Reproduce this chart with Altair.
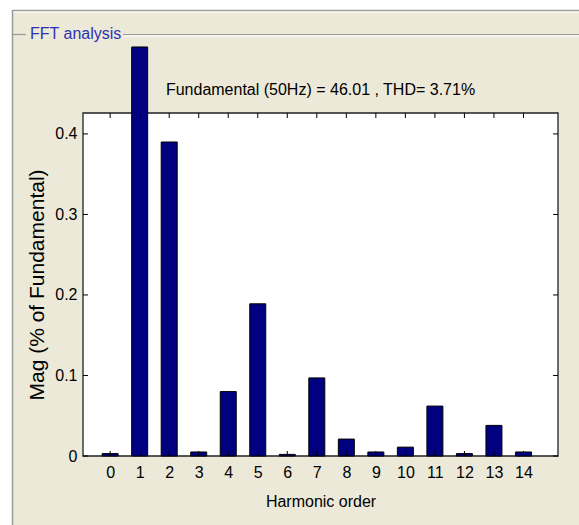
import altair as alt
import pandas as pd

# Harmonic spectrum (magnitude as % of fundamental, as displayed)
orders = list(range(15))
mags = [0.003, 0.508, 0.390, 0.005, 0.080, 0.189, 0.002, 0.097,
        0.021, 0.005, 0.011, 0.062, 0.003, 0.038, 0.005]
y_ticks = [0, 0.1, 0.2, 0.3, 0.4]

title_text = "Fundamental (50Hz) = 46.01 , THD= 3.71%"
panel_text = "FFT analysis"
x_title = "Harmonic order"
y_title = "Mag (% of Fundamental)"

FONT = "Liberation Sans"
FS = 16
W, H = 475, 343
BG = "#ECE9D8"
EDGE = "#9A9A9A"

bars_df = pd.DataFrame({"order": orders, "mag": mags})
ticks_df = pd.DataFrame({"mag": y_ticks})
one = pd.DataFrame({"a": [0]})

xs = alt.Scale(domain=[-0.75, 15], nice=False, zero=False)
ys = alt.Scale(domain=[0, 0.426], nice=False, zero=False)

label_expr = "datum.value == 0 ? '0' : format(datum.value, '.1f')"

x_axis = alt.Axis(
    values=orders, title=x_title, tickSize=0, domain=False, grid=False, zindex=1,
    labelOverlap=False, labelFlush=False,
    labelFont=FONT, labelFontSize=FS, labelColor="black", labelPadding=8,
    titleFont=FONT, titleFontSize=FS, titleFontWeight="normal", titleColor="black",
    titlePadding=13)
y_axis = alt.Axis(
    values=y_ticks, labelExpr=label_expr, title=y_title, tickSize=0, domain=False,
    grid=False, zindex=1, labelOverlap=False, labelFlush=False,
    labelFont=FONT, labelFontSize=FS, labelColor="black",
    labelPadding=6, titleFont=FONT, titleFontSize=21, titleFontWeight="normal",
    titleColor="black", titlePadding=7)

# window frame and group box
canvas = alt.Chart(one).mark_rect(fill=BG, clip=False).encode(
    x=alt.value(-71), x2=alt.value(W + 21), y=alt.value(-103), y2=alt.value(H + 69))


def hline(x1, x2, y, color, w=1.0):
    return alt.Chart(one).mark_rule(color=color, strokeWidth=w, clip=False).encode(
        x=alt.value(x1), x2=alt.value(x2), y=alt.value(y))


def vline(x, y1, y2, color, w=1.0):
    return alt.Chart(one).mark_rule(color=color, strokeWidth=w, clip=False).encode(
        x=alt.value(x), y=alt.value(y1), y2=alt.value(y2))


frame_lines = [
    hline(-71, W + 21, -102.5, EDGE, 1.5),
    hline(-70, W + 21, -101, "#FFFFFF", 1),
    vline(-70.5, -103, H + 69, EDGE, 1.5),
    hline(-71, -57, -78.5, EDGE, 1.2),
    hline(40, W + 21, -78.5, EDGE, 1.2),
    hline(40, W + 21, -77, "#FFFFFF", 1),
]

panel_label = alt.Chart(one).mark_text(
    text=panel_text, font=FONT, fontSize=FS, color="#2E31B3",
    align="left", baseline="middle", clip=False
).encode(x=alt.value(-53), y=alt.value(-79))

plot_bg = alt.Chart(one).mark_rect(fill="white", stroke="#202020", strokeWidth=1.3).encode(
    x=alt.value(0), x2=alt.value(W), y=alt.value(0), y2=alt.value(H))

bars = alt.Chart(bars_df).mark_bar(
    size=16, color="#000080", stroke="black", strokeWidth=1, clip=False
).encode(
    x=alt.X("order:Q", scale=xs, axis=x_axis),
    y=alt.Y("mag:Q", scale=ys, axis=y_axis),
)

# inward tick marks on all four sides
x_ticks_bottom = alt.Chart(bars_df).mark_rule(color="black", strokeWidth=1).encode(
    x=alt.X("order:Q", scale=xs, axis=x_axis), y=alt.value(H), y2=alt.value(H - 5))
x_ticks_top = alt.Chart(bars_df).mark_rule(color="black", strokeWidth=1).encode(
    x=alt.X("order:Q", scale=xs, axis=x_axis), y=alt.value(0), y2=alt.value(5))
y_ticks_left = alt.Chart(ticks_df).mark_rule(color="black", strokeWidth=1).encode(
    y=alt.Y("mag:Q", scale=ys, axis=y_axis), x=alt.value(0), x2=alt.value(5))
y_ticks_right = alt.Chart(ticks_df).mark_rule(color="black", strokeWidth=1).encode(
    y=alt.Y("mag:Q", scale=ys, axis=y_axis), x=alt.value(W), x2=alt.value(W - 5))

headline = alt.Chart(one).mark_text(
    text=title_text, font=FONT, fontSize=FS, color="black",
    align="center", baseline="alphabetic", clip=False
).encode(x=alt.value(W / 2), y=alt.value(-18))

chart = alt.layer(
    canvas, *frame_lines, panel_label, plot_bg, bars,
    x_ticks_bottom, x_ticks_top, y_ticks_left, y_ticks_right, headline
).properties(
    width=W, height=H, background="white",
    padding={"left": 83, "top": 113, "right": 21, "bottom": 69},
    autosize=alt.AutoSizeParams(type="none"),
).configure_view(stroke=None).configure_axis(labelOverlap=False)

chart.save("out.html", embed_options={"renderer": "svg", "actions": False})
